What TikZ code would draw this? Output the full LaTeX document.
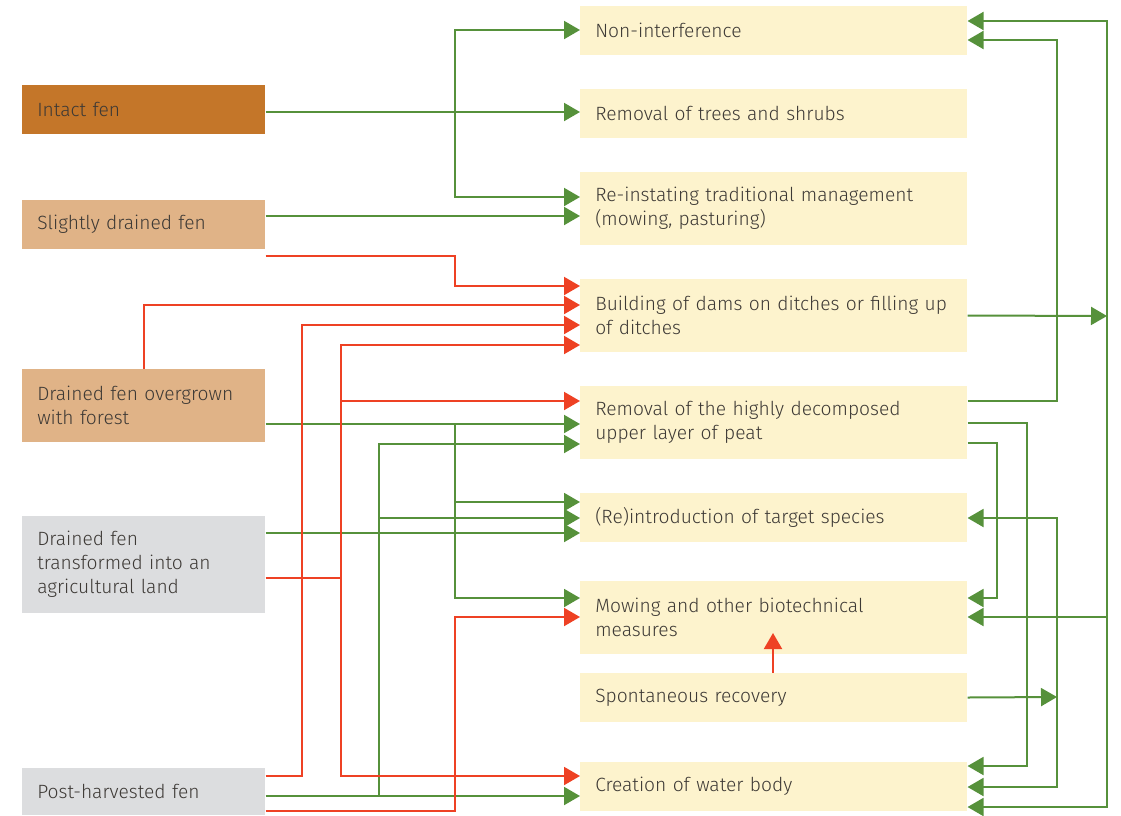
\documentclass[tikz,border=0pt]{standalone}
\usepackage{fontspec}
\setmainfont{Fira Sans Light}
\usepackage{xcolor}
\usetikzlibrary{arrows.meta}
\definecolor{fenA}{HTML}{C47629}
\definecolor{fenB}{HTML}{E0B387}
\definecolor{fenC}{HTML}{DCDDDF}
\definecolor{actbg}{HTML}{FDF3CD}
\definecolor{txtc}{HTML}{3D3935}
\definecolor{grn}{HTML}{56913B}
\definecolor{rd}{HTML}{EE4124}

\begin{document}
\begin{tikzpicture}[x=0.75pt,y=-0.75pt,
        box/.style={anchor=west,text=txtc,inner xsep=11.25pt,inner ysep=0pt,align=left,
            font=\fontsize{14.4}{18}\selectfont},
        src/.style={box,text width=159.75pt,minimum height=#1},
        act/.style={box,fill=actbg,text width=267.75pt,minimum height=#1},
        gline/.style={draw=grn,line width=1.5pt,-{Triangle[length=12pt,width=13.5pt]}},
        rline/.style={draw=rd,line width=1.5pt,-{Triangle[length=12pt,width=13.5pt]}},
        gseg/.style={draw=grn,line width=1.5pt},
        rseg/.style={draw=rd,line width=1.5pt}]
        \useasboundingbox (0,0) rectangle (1121,815);

        % starting states
        \node [src=36.75pt,fill=fenA] (intact) at (22,109.5) {Intact fen};
        \node [src=36.75pt,fill=fenB] (slight) at (22,224.5) {Slightly drained fen};
        \node [src=54.75pt,fill=fenB] (forest) at (22,405.5) {Drained fen overgrown\\with forest};
        \node [src=72.75pt,fill=fenC] (agri) at (22,564.5) {Drained fen\\transformed into an\\agricultural land};
        \node [src=35.25pt,fill=fenC] (post) at (22,791.5) {Post-harvested fen};

        % measures
        \node [act=36.75pt] (nonint) at (580,30.5) {Non-interference};
        \node [act=36.75pt] (trees) at (580,113.5) {Removal of trees and shrubs};
        \node [act=54.75pt] (reinst) at (580,208.5) {Re-instating traditional management\\(mowing, pasturing)};
        \node [act=54.75pt] (dams) at (580,315.5) {Building of dams on ditches or filling up\\of ditches};
        \node [act=54.75pt] (peat) at (580,422.5) {Removal of the highly decomposed\\upper layer of peat};
        \node [act=36.75pt] (reintro) at (580,517.5) {(Re)introduction of target species};
        \node [act=54.75pt] (mowing) at (580,617.5) {Mowing and other biotechnical\\measures};
        \node [act=36.75pt] (spont) at (580,697.5) {Spontaneous recovery};
        \node [act=36.75pt] (water) at (580,786.5) {Creation of water body};

        \coordinate (jIntact) at (455,112);
        \coordinate (jForest) at (455,424);
        \coordinate (jPost) at (379,796);
        \coordinate (jAgri) at (341,578);
        \coordinate (busR) at (1107,316);
        \coordinate (jSpont) at (1057,697);

        % green, left
        \draw[gline] (intact.east |- jIntact) -- (trees.west |- jIntact);
        \draw[gline] (jIntact) |- (nonint.west |- 0,30);
        \draw[gline] (jIntact) |- (reinst.west |- 0,197);
        \draw[gline] (slight.east |- 0,216) -- (reinst.west |- 0,216);
        \draw[gline] (forest.east |- jForest) -- (peat.west |- jForest);
        \draw[gline] (jForest) |- (reintro.west |- 0,502);
        \draw[gline] (jForest) |- (mowing.west |- 0,598);
        \draw[gline] (agri.east |- 0,533) -- (reintro.west |- 0,533);
        \draw[gline] (post.east |- jPost) -- (water.west |- jPost);
        \draw[gline] (jPost) |- (reintro.west |- 0,518);
        \draw[gline] (jPost) |- (peat.west |- 0,444);

        % red, left
        \draw[rline] (slight.east |- 0,256) -| (455,286) -- (dams.west |- 0,286);
        \draw[rline] (forest.north) |- (dams.west |- 0,305);
        \draw[rline] (post.east |- 0,776) -| (302,325) -- (dams.west |- 0,325);
        \draw[rseg] (agri.east |- jAgri) -- (jAgri);
        \draw[rline] (jAgri) |- (dams.west |- 0,345);
        \draw[rline] (jAgri) |- (peat.west |- 0,401);
        \draw[rline] (jAgri) |- (water.west |- 0,776);
        \draw[rline] (post.east |- 0,811) -| (455,617) -- (mowing.west |- 0,617);
        \draw[rline] (spont.north -| 773,0) -- (773,633);

        % green, right
        \draw[gline] (dams.east) -- (busR);
        \draw[gline] (busR) |- (nonint.east |- 0,21);
        \draw[gline] (busR) |- (mowing.east |- 0,617);
        \draw[gline] (busR) |- (water.east |- 0,807);
        \draw[gline] (peat.east |- 0,401) -| (1057,40) -- (nonint.east |- 0,40);
        \draw[gline] (peat.east |- 0,423) -| (1027,766) -- (water.east |- 0,766);
        \draw[gline] (peat.east |- 0,443) -| (997,598) -- (mowing.east |- 0,598);
        \draw[gline] (spont.east) -- (jSpont);
        \draw[gline] (jSpont) |- (reintro.east |- 0,518);
        \draw[gline] (jSpont) |- (water.east |- 0,787);
\end{tikzpicture}
\end{document}
